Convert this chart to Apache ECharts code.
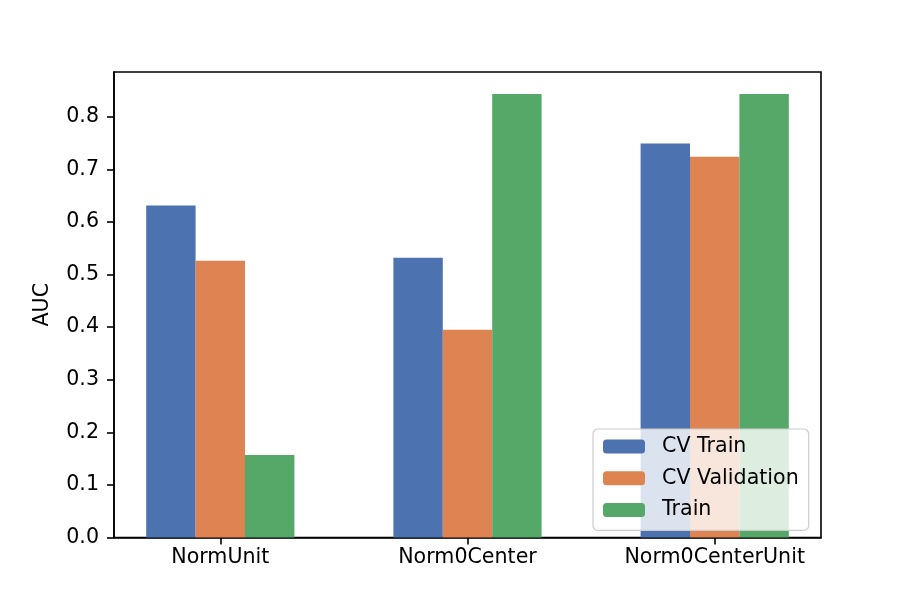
<!DOCTYPE html>
<html>
<head>
<meta charset="utf-8">
<script src="https://cdn.jsdelivr.net/npm/echarts@6/dist/echarts.min.js"></script>
<style>
html,body{margin:0;padding:0;background:#fff;}
#chart{width:912px;height:604px;}
</style>
</head>
<body>
<div id="chart"></div>
<script>
const categories = ["NormUnit", "Norm0Center", "Norm0CenterUnit"];
const cvTrain = [0.631, 0.532, 0.749];
const cvValidation = [0.526, 0.395, 0.724];
const train = [0.157, 0.843, 0.843];
const yTicks = [0, 0.1, 0.2, 0.3, 0.4, 0.5, 0.6, 0.7, 0.8];

const font = "DejaVu Sans";
const fs = 20.6;
const chart = echarts.init(document.getElementById('chart'));
function toData(arr){ return arr.map((v,i)=>[i,v]); }
const barW = 49.4;
chart.setOption({
  backgroundColor: '#ffffff',
  animation: false,
  grid: {left: 114, top: 72, right: 91, bottom: 66.5, show: true, borderColor: '#000', borderWidth: 1.6, backgroundColor: 'transparent'},
  xAxis: {
    type: 'value', min: -0.43, max: 2.43,
    splitLine: {show: false},
    axisLine: {show: true, onZero: false, lineStyle: {color: '#000', width: 1.6}},
    axisTick: {show: true, customValues: categories.map((c,i)=>i), length: 7, lineStyle: {color: '#000', width: 1.6}},
    axisLabel: {customValues: categories.map((c,i)=>i), formatter: v => categories[Math.round(v)], color: '#000', fontFamily: font, fontSize: fs, margin: 10}
  },
  yAxis: {
    type: 'value', min: 0, max: 0.885,
    name: 'AUC', nameLocation: 'middle', nameGap: 61, nameRotate: 90,
    nameTextStyle: {color: '#000', fontFamily: font, fontSize: fs},
    splitLine: {show: false},
    axisLine: {show: true, onZero: false, lineStyle: {color: '#000', width: 1.6}},
    axisTick: {show: true, customValues: yTicks, length: 7, lineStyle: {color: '#000', width: 1.6}},
    axisLabel: {customValues: yTicks, formatter: v => v.toFixed(1), color: '#000', fontFamily: font, fontSize: fs, margin: 15}
  },
  legend: {
    orient: 'vertical', left: 593, top: 429,
    padding: [7, 10, 10, 10],
    backgroundColor: 'rgba(255,255,255,0.8)', borderColor: '#cccccc', borderWidth: 1.2, borderRadius: 5,
    itemWidth: 42, itemHeight: 14, itemGap: 10.7,
    textStyle: {color: '#000', fontFamily: font, fontSize: fs, lineHeight: 20, padding: [0,0,0,12]},
    data: ['CV Train', 'CV Validation', 'Train']
  },
  series: [
    {name: 'CV Train', type: 'bar', data: toData(cvTrain), barWidth: barW, barGap: '0%', itemStyle: {color: '#4C72B0'}},
    {name: 'CV Validation', type: 'bar', data: toData(cvValidation), barWidth: barW, barGap: '0%', itemStyle: {color: '#DD8452'}},
    {name: 'Train', type: 'bar', data: toData(train), barWidth: barW, barGap: '0%', itemStyle: {color: '#55A868'}}
  ]
});
</script>
</body>
</html>
